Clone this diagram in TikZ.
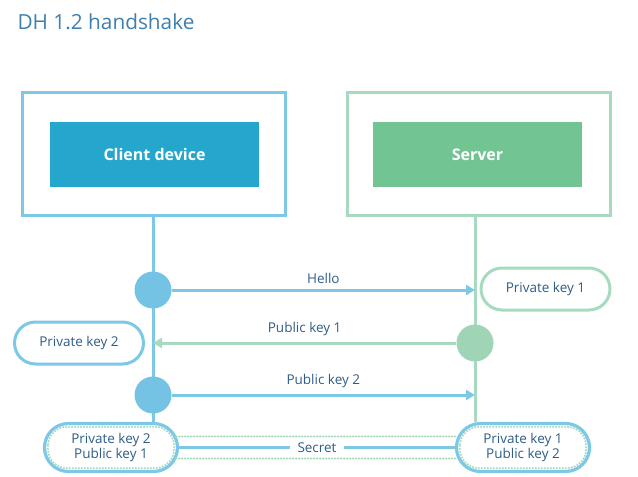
\documentclass[tikz,border=0pt]{standalone}
\usepackage{fontspec}
\setmainfont{Open Sans}
\usetikzlibrary{arrows.meta,calc}
\definecolor{bfill}{HTML}{25A7CD}
\definecolor{bline}{HTML}{7CC8E6}
\definecolor{bcirc}{HTML}{74C3E4}
\definecolor{gfill}{HTML}{72C593}
\definecolor{gline}{HTML}{A6DBBF}
\definecolor{gcirc}{HTML}{9FD5B6}
\definecolor{tblue}{HTML}{2E5D87}
\definecolor{ttitle}{HTML}{3F7FAE}
\begin{document}
\begin{tikzpicture}[x=1pt,y=-1pt,
  outerbox/.style={draw,line width=3pt,minimum width=263pt,minimum height=123pt,inner sep=0pt},
  innerbox/.style={minimum width=209pt,minimum height=65pt,inner sep=0pt,text=white,font=\fontsize{16}{19}\selectfont\bfseries},
  keybox/.style={draw,line width=3pt,rounded corners=21pt,minimum width=129pt,minimum height=42pt,inner sep=0pt,text=tblue,font=\fontsize{13.5}{16}\selectfont,fill=white},
  dot/.style={circle,minimum size=37pt,inner sep=0pt},
  lbl/.style={text=tblue,font=\fontsize{13.5}{16}\selectfont},
  arr/.style={line width=3pt,-{Triangle[width=10pt,length=9pt]}},
  life/.style={line width=3pt},
  dots/.style={gline,line width=2.4pt,line cap=round,dash pattern=on 0pt off 3pt},
  bottombox/.style={draw=bline,line width=3.2pt,rounded corners=24pt,minimum width=133pt,minimum height=48pt,inner sep=0pt,align=center,text=tblue,font=\fontsize{13.5}{16}\selectfont,fill=white}
]
\useasboundingbox (0,0) rectangle (638,477);
\node[anchor=base west,text=ttitle,font=\fontsize{20.8}{25}\selectfont] (title) at (14,29) {DH 1.2 handshake};

\node[outerbox,draw=bline] (cout) at (153.5,153.5) {};
\node[innerbox,fill=bfill] (cin) at (154.5,154.5) {Client device};
\node[outerbox,draw=gline] (sout) at (478.5,153.5) {};
\node[innerbox,fill=gfill] (sin) at (477.5,154.5) {Server};

% bottom boxes
\node[bottombox] (lb) at (111,447.5) {Private key 2\\[-1pt]Public key 1};
\node[bottombox] (rb) at (523,447.5) {Private key 1\\[-1pt]Public key 2};

% lifelines
\draw[life,bline] (cout.south -| 153,0) -- (lb.north -| 153,0);
\draw[life,gline] (sout.south -| 475,0) -- (rb.north -| 475,0);

% circles
\node[dot,fill=bcirc] (c1) at (153,290) {};
\node[dot,fill=gcirc] (c2) at (475,343) {};
\node[dot,fill=bcirc] (c3) at (153,395) {};

\coordinate (h1) at (475,290);
\coordinate (p1) at (153,343);
\coordinate (p2) at (475,395);

\draw[arr,bline] (c1.east) -- (h1) node[lbl,midway,above=2pt] {Hello};
\draw[arr,gline] (c2.west) -- (p1) node[lbl,midway,above=2pt] {Public key 1};
\draw[arr,bline] (c3.east) -- (p2) node[lbl,midway,above=2pt] {Public key 2};

\node[keybox,draw=gline] (pk1) at (545.5,289) {Private key 1};
\node[keybox,draw=bline] (pk2) at (79,343) {Private key 2};

% secret links
\draw[dots] ($(lb.east)+(-3,-11)$) -- ($(rb.west)+(3,-11)$);
\draw[dots] ($(lb.east)+(-3,11)$) -- ($(rb.west)+(3,11)$);
\draw[line width=3pt,bline] (lb.east) -- (rb.west) node[lbl,midway,fill=white,inner xsep=8pt,inner ysep=1pt] (sec) {Secret};

% inner dotted outlines
\draw[dots,rounded corners=19pt] ($(lb.north west)+(5,5)$) rectangle ($(lb.south east)+(-5,-5)$);
\draw[dots,rounded corners=19pt] ($(rb.north west)+(5,5)$) rectangle ($(rb.south east)+(-5,-5)$);
\end{tikzpicture}
\end{document}
